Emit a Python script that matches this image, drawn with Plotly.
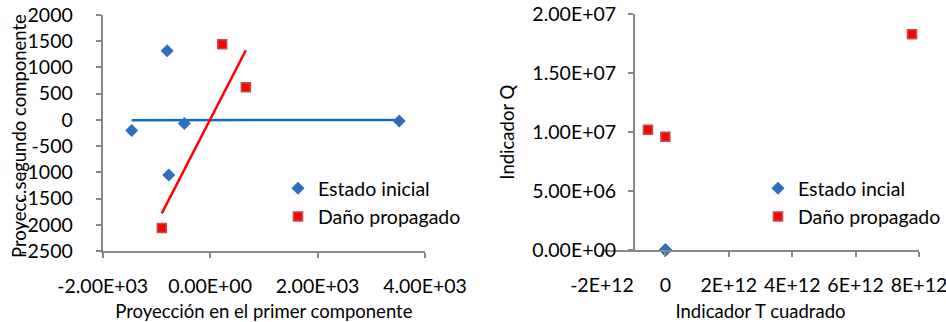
import numpy as np
import plotly.graph_objects as go

# ---- Data: left chart (PCA projections) ----
pc1_inicial = [-1460, -800, -770, -480, 3520]
pc2_inicial = [-200, 1320, -1050, -70, -20]
pc1_dano = [225, 665, -900]
pc2_dano = [1440, 620, -2060]

# ---- Data: right chart (T^2 vs Q) ----
t2_inicial = [0, 0, 0, 0, 0]
q_inicial = [0, 0, 0, 0, 0]
t2_dano = [-5.5e11, 0, 7.78e12]
q_dano = [1.02e7, 9.6e6, 1.83e7]

# tick labels
left_xticks = [-2000, 0, 2000, 4000]
left_xtext = ["-2.00E+03", "0.00E+00", "2.00E+03", "4.00E+03"]
left_yticks = [2000, 1500, 1000, 500, 0, -500, -1000, -1500, -2000, -2500]
left_ytext = ["2000", "1500", "1000", "500", "0", "-500", "-1000", "-1500", "-2000", "-2500"]
right_xticks = [-2e12, 0, 2e12, 4e12, 6e12, 8e12]
right_xtext = ["-2E+12", "0", "2E+12", "4E+12", "6E+12", "8E+12"]
right_yticks = [0, 5e6, 1e7, 1.5e7, 2e7]
right_ytext = ["0.00E+00", "5.00E+06", "1.00E+07", "1.50E+07", "2.00E+07"]

BLUE = "#2e6fbf"
LBLUE = "#0a6fc2"
RED = "#ff0000"
REDEDGE = "#c0504d"
AX = "#878787"
FONT = "Lato"

def trend(x, y):
    m, b = np.polyfit(x, y, 1)
    xs = np.array([min(x), max(x)])
    return xs, m * xs + b

fig = go.Figure()

# Left chart
bx, by = trend(pc1_inicial, pc2_inicial)
rx, ry = trend(pc1_dano, pc2_dano)
fig.add_trace(go.Scatter(x=bx, y=by, mode="lines", line=dict(color=LBLUE, width=2.5),
                         showlegend=False, hoverinfo="skip", xaxis="x", yaxis="y"))
fig.add_trace(go.Scatter(x=rx, y=ry, mode="lines", line=dict(color=RED, width=2.5),
                         showlegend=False, hoverinfo="skip", xaxis="x", yaxis="y"))
fig.add_trace(go.Scatter(x=pc1_inicial, y=pc2_inicial, mode="markers", name="Estado inicial",
                         marker=dict(symbol="diamond", size=10, color=BLUE, line=dict(width=0)),
                         xaxis="x", yaxis="y", legend="legend"))
fig.add_trace(go.Scatter(x=pc1_dano, y=pc2_dano, mode="markers", name="Daño propagado",
                         marker=dict(symbol="square", size=9, color=RED, line=dict(width=1.5, color=REDEDGE)),
                         xaxis="x", yaxis="y", legend="legend"))

# Right chart
fig.add_trace(go.Scatter(x=t2_inicial, y=q_inicial, mode="markers", name="Estado incial",
                         marker=dict(symbol="diamond", size=10, color=BLUE, line=dict(width=0)),
                         xaxis="x2", yaxis="y2", legend="legend2", cliponaxis=False))
fig.add_trace(go.Scatter(x=t2_dano, y=q_dano, mode="markers", name="Daño propagado",
                         marker=dict(symbol="square", size=9, color=RED, line=dict(width=1.5, color=REDEDGE)),
                         xaxis="x2", yaxis="y2", legend="legend2", cliponaxis=False))

W, H = 946, 322
tickfont = dict(family=FONT, size=19.5, color="#000000")
titlefont = dict(family=FONT, size=18.5, color="#000000")

common = dict(showgrid=False, zeroline=False, showline=True, linecolor=AX, linewidth=2,
              ticks="outside", tickcolor=AX, tickwidth=2, ticklen=5, tickfont=tickfont,
              automargin=False, ticklabeloverflow="allow")

fig.update_layout(
    width=W, height=H, paper_bgcolor="white", plot_bgcolor="white",
    margin=dict(l=0, r=0, t=0, b=0),
    xaxis=dict(domain=[102.7 / W, 425 / W], range=[-2000, 4000], anchor="y",
               tickvals=left_xticks, ticktext=left_xtext, ticklabelstandoff=12,
               title=dict(text="Proyección en el primer componente", font=titlefont, standoff=11),
               **common),
    yaxis=dict(domain=[(H - 251) / H, (H - 15) / H], range=[-2500, 2000], anchor="x",
               tickvals=left_yticks, ticktext=left_ytext, ticklabelstandoff=19,
               **common),
    xaxis2=dict(domain=[602 / W, 919 / W], range=[-2e12, 8e12], anchor="y2",
                tickvals=right_xticks, ticktext=right_xtext, ticklabelstandoff=12,
                title=dict(text="Indicador T cuadrado", font=titlefont, standoff=11),
                **common),
    yaxis2=dict(domain=[(H - 250) / H, (H - 14.3) / H], range=[0, 2e7], anchor="free",
                position=634 / W,
                tickvals=right_yticks, ticktext=right_ytext, ticklabelstandoff=8,
                title=dict(text="Indicador Q", font=titlefont, standoff=12),
                **common),
    annotations=[dict(text="Proyecc.segundo componente", textangle=-90, xref="paper", yref="paper",
                      x=19 / W, y=(H - 136) / H, xanchor="center", yanchor="middle",
                      showarrow=False, font=titlefont)],
    legend=dict(x=278 / W, y=(H - 169) / H, xanchor="left", yanchor="top",
                font=dict(family=FONT, size=19.5, color="#000000"), bgcolor="rgba(0,0,0,0)",
                itemwidth=30, tracegroupgap=0),
    legend2=dict(x=1.0, y=(H - 169) / H, xanchor="right", yanchor="top",
                 font=dict(family=FONT, size=19.5, color="#000000"), bgcolor="rgba(0,0,0,0)",
                 itemwidth=30, tracegroupgap=0),
)

fig.write_html(
    "out.html",
    config={"displayModeBar": False},
    post_script=("document.body.style.margin='0';"
                 "document.body.style.overflow='hidden';"
                 "document.documentElement.style.overflow='hidden';"),
)
